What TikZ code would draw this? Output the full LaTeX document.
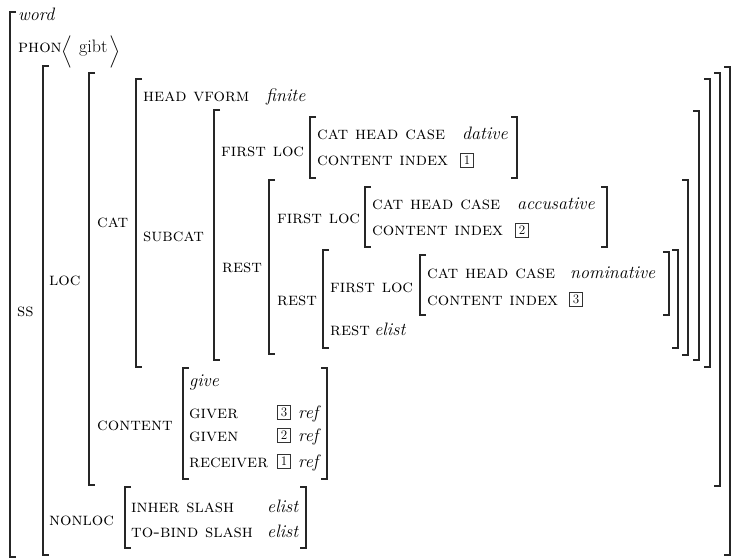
\documentclass[tikz,border=0pt]{standalone}
\usepackage{amsmath}
\usepackage{amssymb}
\usepackage{tikz}
\usetikzlibrary{positioning}
\tikzset{
    attr/.style={
    anchor=base west,inner sep=0pt,font=\fontsize{18}{21.6}\selectfont\scshape
    },
    val/.style={
    anchor=base west,inner sep=0pt,font=\fontsize{18}{21.6}\selectfont\itshape
    },
    txt/.style={
    anchor=base west,inner sep=0pt,font=\fontsize{18}{21.6}\selectfont
    },
    delim/.style={
    inner sep=0pt,font=\fontsize{18}{21.6}\selectfont
    },
    tagbox/.style={
    rectangle,draw=black!80,line width=0.6pt,inner sep=0pt,
    minimum width=12.5pt,minimum height=14pt,font=\fontsize{13}{15}\selectfont
    },
    brk/.style={
    draw=black!85,line width=1.3pt
    },
}
\begin{document}
\begin{tikzpicture}[x=1pt, y=-1pt]
   \useasboundingbox (0,0) rectangle (734,559);
   % top level
   \node[val]  (word) at (18,21)  {word};
   \node[attr] (phon) at (18,53)  {phon};
   \node[delim] (lang) at (66.5,51.5) {$\Bigl\langle$};
   \node[txt]  (gibt) at (79,53)  {gibt};
   \node[delim] (rang) at (114.5,51.5) {$\Bigr\rangle$};
   \node[attr] (ss)   at (17,316) {ss};
   \node[attr] (loc)  at (49,285) {loc};
   \node[attr] (cat)  at (97,227) {cat};
   \node[attr] (head) at (143,102) {head vform};
   \node[val]  (finite) at (266,102) {finite};
   \node[attr] (subcat) at (143,241) {subcat};
   % first element
   \node[attr] (firstA) at (221,157) {first loc};
   \node[attr] (caseA)  at (317,140) {cat head case};
   \node[val]  (dat)    at (462,140) {dative};
   \node[attr] (indexA) at (317,166) {content index};
   \node[tagbox] (tagA) at (467,160) {1};
   % second element
   \node[attr] (restA)  at (222,272) {rest};
   \node[attr] (firstB) at (277,223) {first loc};
   \node[attr] (caseB)  at (372,210) {cat head case};
   \node[val]  (acc)    at (517,210) {accusative};
   \node[attr] (indexB) at (372,236) {content index};
   \node[tagbox] (tagB) at (522,230) {2};
   % third element
   \node[attr] (restB)  at (277,305) {rest};
   \node[attr] (firstC) at (330,292) {first loc};
   \node[attr] (caseC)  at (427,278) {cat head case};
   \node[val]  (nom)    at (570,278) {nominative};
   \node[attr] (indexC) at (427,305) {content index};
   \node[tagbox] (tagC) at (576,299) {3};
   \node[attr] (restC)  at (330,335) {rest};
   \node[val]  (elistR) [right=4pt of restC.base east, anchor=base west] {elist};
   % content
   \node[attr] (content) at (97,430) {content};
   \node[val]  (give)    at (189,386) {give};
   \node[attr] (giver)   at (189,418) {giver};
   \node[tagbox] (tagGr) at (284,412) {3};
   \node[val]  (refGr)   at (298,418) {ref};
   \node[attr] (given)   at (189,441) {given};
   \node[tagbox] (tagGn) at (284,435) {2};
   \node[val]  (refGn)   at (298,441) {ref};
   \node[attr] (receiver) at (189,467) {receiver};
   \node[tagbox] (tagRc) at (284,461) {1};
   \node[val]  (refRc)   at (298,467) {ref};
   % nonloc
   \node[attr] (nonloc) at (49,525)  {nonloc};
   \node[attr] (inher)  at (131,512) {inher slash};
   \node[val]  (elistI) at (267,512) {elist};
   \node[attr] (tobind) at (131,537) {to-bind slash};
   \node[val]  (elistT) at (267,537) {elist};

   % left brackets
   \draw[brk] (16,12)  -- (10,12)  -- (10,557)  -- (16,557);
   \draw[brk] (49,66)  -- (43,66)  -- (43,555)  -- (49,555);
   \draw[brk] (95,73)  -- (89,73)  -- (89,485)  -- (95,485);
   \draw[brk] (142,79) -- (136,79) -- (136,367) -- (142,367);
   \draw[brk] (220,110) -- (214,110) -- (214,360) -- (220,360);
   \draw[brk] (316,117) -- (310,117) -- (310,178) -- (316,178);
   \draw[brk] (275,180) -- (269,180) -- (269,354) -- (275,354);
   \draw[brk] (371,187) -- (365,187) -- (365,247) -- (371,247);
   \draw[brk] (329,250) -- (323,250) -- (323,348) -- (329,348);
   \draw[brk] (426,255) -- (420,255) -- (420,315) -- (426,315);
   \draw[brk] (189,368) -- (183,368) -- (183,479) -- (189,479);
   \draw[brk] (131,487) -- (125,487) -- (125,548) -- (131,548);
   % right brackets
   \draw[brk] (724,67)  -- (730,67)  -- (730,555) -- (724,555);
   \draw[brk] (714,73)  -- (720,73)  -- (720,486) -- (714,486);
   \draw[brk] (704,79)  -- (710,79)  -- (710,367) -- (704,367);
   \draw[brk] (693,111) -- (699,111) -- (699,360) -- (693,360);
   \draw[brk] (682,180) -- (688,180) -- (688,355) -- (682,355);
   \draw[brk] (672,250) -- (678,250) -- (678,348) -- (672,348);
   \draw[brk] (511,117) -- (517,117) -- (517,178) -- (511,178);
   \draw[brk] (601,187) -- (607,187) -- (607,247) -- (601,247);
   \draw[brk] (663,252) -- (669,252) -- (669,315) -- (663,315);
   \draw[brk] (321,368) -- (327,368) -- (327,479) -- (321,479);
   \draw[brk] (300,487) -- (306,487) -- (306,548) -- (300,548);
\end{tikzpicture}
\end{document}
